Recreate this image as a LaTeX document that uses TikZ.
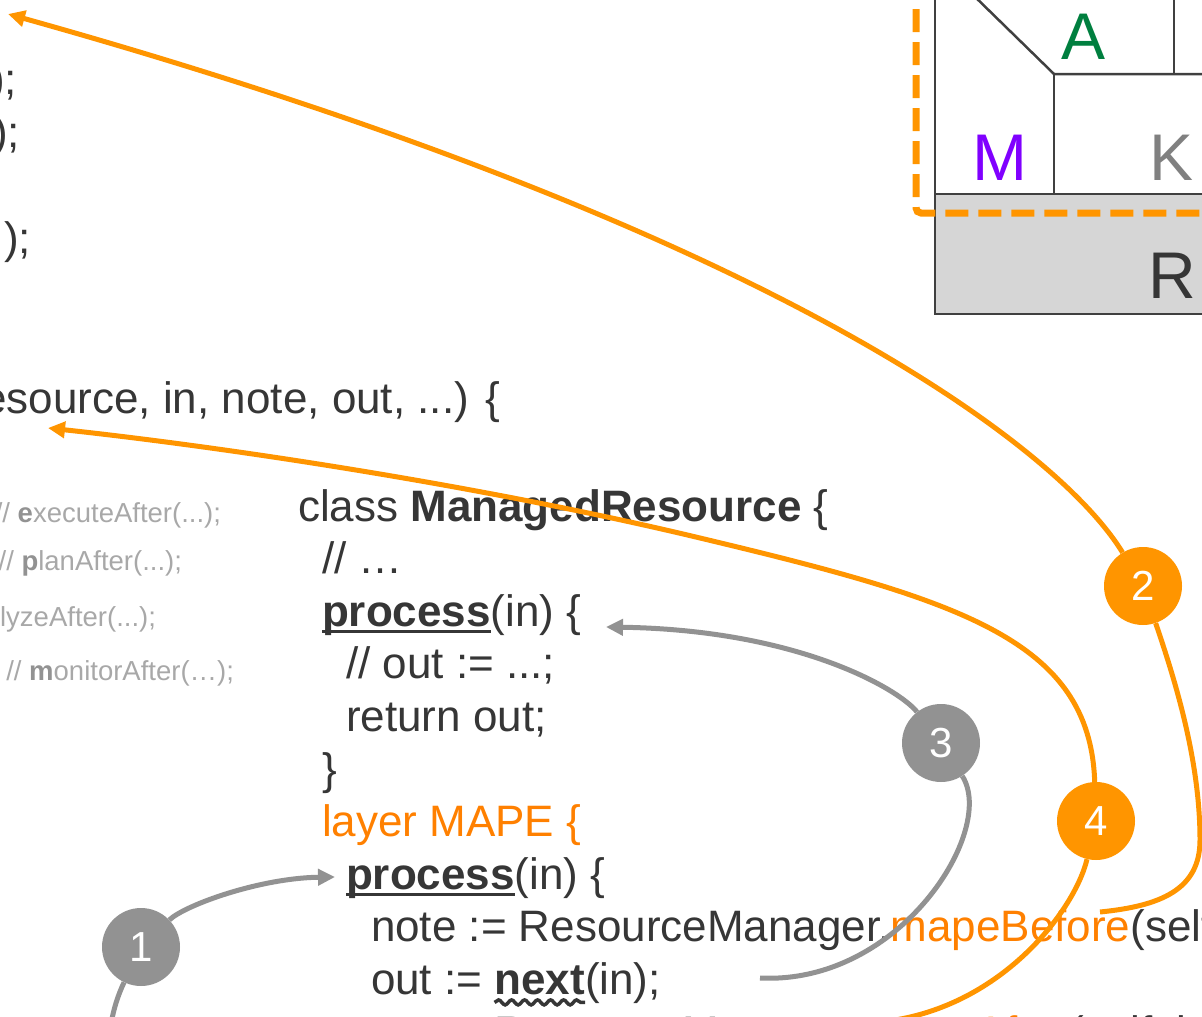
\documentclass[tikz,border=0pt]{standalone}
\usepackage{fontspec}
\setmainfont{Liberation Sans}
\usetikzlibrary{arrows.meta,calc,decorations.pathmorphing}

\definecolor{codedark}{HTML}{363636}
\definecolor{mapetext}{HTML}{FF8000}
\definecolor{lineorange}{HTML}{FF9500}
\definecolor{linegray}{HTML}{929292}
\definecolor{cmtgray}{HTML}{A8A8A8}
\definecolor{cmtbold}{HTML}{929292}
\definecolor{boxline}{HTML}{404040}
\definecolor{boxfill}{HTML}{D6D6D6}
\definecolor{analyzegreen}{HTML}{007F3F}
\definecolor{monitorpurple}{HTML}{8000FF}
\definecolor{knowgray}{HTML}{808080}

% bold word with a solid underline
\newcommand\ulbold[1]{\setbox0\hbox{\bfseries #1}\rlap{\rule[-7pt]{\wd0}{3pt}}\box0}

\tikzset{
  codeline/.style={anchor=base west, inner sep=0pt, outer sep=0pt, text=codedark,
    font=\fontsize{44}{52}\selectfont},
  cmt/.style={anchor=base east, inner sep=0pt, outer sep=0pt, text=cmtgray,
    font=\fontsize{27.5}{33}\selectfont},
  letter/.style={inner sep=0pt, outer sep=0pt, font=\fontsize{66}{70}\selectfont},
  badge/.style={circle, minimum size=78pt, inner sep=0pt, text=white,
    font=\fontsize{42}{46}\selectfont},
  oline/.style={draw=lineorange, line width=5pt},
  gline/.style={draw=linegray, line width=5pt},
  tip/.style={-{Triangle[length=17pt,width=16pt]}},
  boxstroke/.style={draw=boxline, line width=2.5pt},
}

\begin{document}
\begin{tikzpicture}[x=1pt,y=-1pt]
\useasboundingbox (0,0) rectangle (1202,1017);
\clip (0,0) rectangle (1202,1017);

% ---- MAPE-K block ----
\fill[boxfill] (935,194) rectangle (1220,314);
\draw[boxstroke] (935,-10) -- (935,314) -- (1220,314);
\draw[boxstroke] (935,194) -- (1220,194);
\draw[boxstroke] (968,-10) -- (1054,74) -- (1220,74);
\draw[boxstroke] (1054,74) -- (1054,194);
\draw[boxstroke] (1174,-10) -- (1174,74);
\node[letter, anchor=base, text=analyzegreen] (lA) at (1083,59) {A};
\node[letter, anchor=base, text=monitorpurple] (lM) at (1000,180) {M};
\node[letter, anchor=base west, text=knowgray] (lK) at (1149,180) {K};
\node[letter, anchor=base west, text=codedark] (lR) at (1148,298) {R};
\draw[draw=lineorange, line width=7pt, dash pattern=on 23pt off 10pt, dash phase=4pt,
  rounded corners=5pt] (916,-20) -- (916,213) -- (1230,213);

% ---- upper code fragment ----
\node[codeline, anchor=base east] (u1) at (17,94) {);};
\node[codeline, anchor=base east] (u2) at (20,147) {);};
\node[codeline, anchor=base east] (u3) at (31,253) {...);};
\node[codeline, anchor=base east] (u4) at (500,413) {esource, in, note, out, ...) \{};

% ---- commented hooks ----
\node[cmt] (h1) at (221,522) {// \textcolor{cmtbold}{\bfseries e}xecuteAfter(...);};
\node[cmt] (h2) at (182,570) {// \textcolor{cmtbold}{\bfseries p}lanAfter(...);};
\node[cmt] (h3) at (156,626) {lyzeAfter(...);};
\node[cmt] (h4) at (234,680) {// \textcolor{cmtbold}{\bfseries m}onitorAfter(…);};

% ---- managed resource class ----
\node[codeline] (l1) at (298,521) {class \textbf{ManagedResource} \{};
\node[codeline] (l2) at (322,573.6) {// …};
\node[codeline] (l3) at (322,626.2) {\ulbold{process}(in) \{};
\node[codeline] (l4) at (346,678.8) {// out := ...;};
\node[codeline] (l5) at (346,731.4) {return out;};
\node[codeline] (l6) at (322,784) {\}};
\node[codeline, text=mapetext] (l7) at (322,836.6) {layer MAPE \{};
\node[codeline] (l8) at (346,889.2) {\ulbold{process}(in) \{};
\node[codeline] (l9) at (371,941.8) {note := ResourceManager.\textcolor{mapetext}{mapeBefore}(self, in);};
\node[codeline] (l10a) at (371,994.4) {\mbox{out :=\ }};
\node[codeline] (l10b) at (l10a.base east) {\textbf{next}};
\node[codeline] (l10c) at (l10b.base east) {(in);};
\node[codeline] (l11) at (371,1047) {out := ResourceManager.\textcolor{mapetext}{mapeAfter}(self, in, note, out);};
\draw[draw=codedark, line width=3.5pt, decorate,
  decoration={snake, segment length=13pt, amplitude=2.5pt}]
  ($(l10b.base west)+(0,8)$) -- ($(l10b.base east)+(0,8)$);

% ---- numbered steps ----
\node[badge, fill=linegray] (n1) at (141,947) {1};
\node[badge, fill=lineorange] (n2) at (1143,586) {2};
\node[badge, fill=linegray] (n3) at (941,743) {3};
\node[badge, fill=lineorange] (n4) at (1096,821) {4};

\coordinate (e1) at (110,1030);
\coordinate (t1) at (335,877);
\coordinate (s2) at (1100,912);
\coordinate (t2) at (8,14);
\coordinate (t3) at (606,627);
\coordinate (e3) at (760,978);
\coordinate (t4) at (48,428);
\coordinate (e4) at (880,1022);

% step 1
\draw[gline] (n1) .. controls (118,995) and (113,1010) .. (e1);
\draw[gline, tip] (n1) .. controls (185,905) and (260,878) .. (t1);
% step 2
\draw[oline] (s2) .. controls (1160,906) and (1200,890) .. (1200,840)
  .. controls (1200,760) and (1175,680) .. (n2);
\draw[oline, tip] (n2) .. controls (1060,450) and (780,230) .. (t2);
% step 3
\draw[gline] (n3) .. controls (997,830) and (900,985) .. (e3);
\draw[gline, tip] (n3) .. controls (900,690) and (800,630) .. (t3);
% step 4
\draw[oline] (n4) .. controls (1075,910) and (1000,1010) .. (e4);
\draw[oline, tip] (n4) .. controls (1090,640) and (960,600) .. (700,538)
  .. controls (500,490) and (250,450) .. (t4);
\end{tikzpicture}
\end{document}
